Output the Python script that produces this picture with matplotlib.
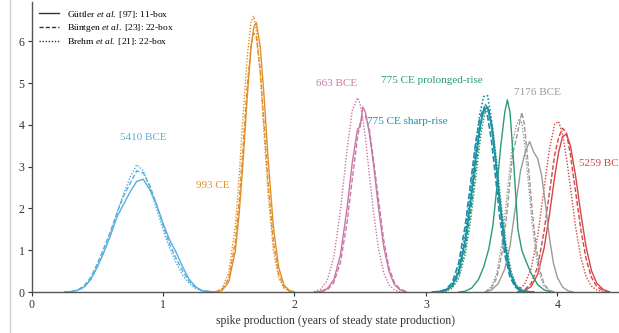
import matplotlib
matplotlib.use("Agg")
import matplotlib.pyplot as plt
from matplotlib.lines import Line2D

plt.rcParams["font.family"] = ["Liberation Serif", "DejaVu Serif"]
plt.rcParams["mathtext.fontset"] = "custom"
plt.rcParams["mathtext.rm"] = "Liberation Serif"
plt.rcParams["mathtext.it"] = "Liberation Serif:italic"

# ---- posterior densities of spike production, one block per event ----
# 5410 BCE
x_5410 = [0.25, 0.30, 0.35, 0.40, 0.45, 0.50, 0.55, 0.60, 0.65, 0.70, 0.75, 0.80,
          0.85, 0.90, 0.95, 1.00, 1.05, 1.10, 1.15, 1.20, 1.25, 1.30, 1.40]
y_5410_guttler = [0, 0.01, 0.04, 0.12, 0.30, 0.60, 0.95, 1.35, 1.80, 2.10, 2.40, 2.65,
                  2.70, 2.45, 2.10, 1.65, 1.25, 0.95, 0.60, 0.30, 0.12, 0.03, 0]
y_5410_buntgen = [0, 0.01, 0.05, 0.15, 0.35, 0.68, 1.05, 1.45, 1.90, 2.30, 2.60, 2.90,
                  2.85, 2.55, 2.10, 1.60, 1.15, 0.80, 0.50, 0.25, 0.10, 0.03, 0]
y_5410_brehm = [0, 0.01, 0.04, 0.12, 0.30, 0.60, 0.95, 1.40, 1.90, 2.35, 2.75, 3.05,
                2.90, 2.50, 2.00, 1.50, 1.05, 0.70, 0.40, 0.20, 0.08, 0.02, 0]

# 993 CE
x_993 = [1.40, 1.45, 1.50, 1.55, 1.58, 1.61, 1.64, 1.67, 1.69, 1.71, 1.74, 1.77,
         1.80, 1.84, 1.88, 1.92, 1.96, 2.00]
y_993_guttler = [0, 0.04, 0.24, 0.98, 1.90, 3.17, 4.64, 5.86, 6.33, 6.45, 5.86, 4.64,
                 3.17, 1.55, 0.59, 0.17, 0.04, 0]
y_993_buntgen = [0, 0.06, 0.32, 1.20, 2.20, 3.50, 4.90, 5.90, 6.20, 6.10, 5.30, 3.97,
                 2.60, 1.20, 0.43, 0.12, 0.03, 0]
y_993_brehm = [0.01, 0.09, 0.46, 1.58, 2.80, 4.25, 5.60, 6.48, 6.60, 6.28, 5.20, 3.74,
               2.34, 1.00, 0.34, 0.09, 0.02, 0]

# 663 BCE
x_663 = [2.15, 2.20, 2.25, 2.30, 2.35, 2.40, 2.44, 2.48, 2.50, 2.52, 2.54, 2.57,
         2.60, 2.64, 2.68, 2.72, 2.76, 2.80, 2.85]
y_663_guttler = [0, 0.02, 0.08, 0.30, 0.89, 2.00, 3.10, 3.90, 3.95, 4.43, 4.30, 3.80,
                 3.10, 2.00, 1.07, 0.49, 0.18, 0.06, 0]
y_663_buntgen = [0, 0.01, 0.05, 0.23, 0.71, 1.66, 2.70, 3.70, 4.05, 4.20, 4.22, 3.90,
                 3.20, 2.20, 1.22, 0.57, 0.23, 0.08, 0.01]
y_663_brehm = [0.01, 0.07, 0.28, 0.85, 1.95, 3.40, 4.35, 4.65, 4.50, 4.15, 3.70, 2.80,
               1.95, 1.02, 0.45, 0.17, 0.05, 0.01, 0]

# 775 CE, sharp-rise model
x_775s = [3.05, 3.10, 3.15, 3.20, 3.25, 3.30, 3.34, 3.38, 3.41, 3.44, 3.47, 3.50,
          3.53, 3.56, 3.60, 3.64, 3.68, 3.72, 3.76, 3.82]
y_775s_guttler = [0, 0.01, 0.04, 0.15, 0.49, 1.24, 2.17, 3.23, 3.93, 4.36, 4.42, 3.98,
                  3.17, 2.22, 1.15, 0.47, 0.16, 0.04, 0.01, 0]
y_775s_buntgen = [0, 0.01, 0.06, 0.22, 0.70, 1.60, 2.60, 3.60, 4.15, 4.40, 4.20, 3.60,
                  2.75, 1.85, 0.90, 0.36, 0.12, 0.03, 0.01, 0]
y_775s_brehm = [0, 0.01, 0.05, 0.17, 0.55, 1.38, 2.40, 3.50, 4.25, 4.68, 4.70, 4.10,
                3.20, 2.20, 1.10, 0.45, 0.15, 0.04, 0.01, 0]

# 775 CE, prolonged-rise model
x_775p = [3.25, 3.30, 3.35, 3.40, 3.44, 3.48, 3.51, 3.54, 3.57, 3.60, 3.62, 3.64,
          3.67, 3.70, 3.73, 3.76, 3.80, 3.85, 3.90, 3.95]
y_775p_guttler = [0, 0.02, 0.10, 0.30, 0.60, 1.05, 1.60, 2.50, 3.50, 4.30, 4.60, 4.30,
                  3.00, 1.50, 1.00, 0.75, 0.45, 0.18, 0.05, 0]
x_775p_22 = [3.10, 3.15, 3.20, 3.25, 3.30, 3.34, 3.38, 3.42, 3.45, 3.48, 3.51, 3.54,
             3.57, 3.61, 3.65, 3.69, 3.74, 3.80]
y_775p_buntgen = [0, 0.03, 0.12, 0.40, 1.05, 1.90, 3.00, 4.05, 4.50, 4.35, 3.75, 2.90,
                  2.00, 1.00, 0.40, 0.13, 0.03, 0]
y_775p_brehm = [0, 0.02, 0.09, 0.32, 0.90, 1.70, 2.75, 3.80, 4.30, 4.35, 3.90, 3.10,
                2.20, 1.15, 0.48, 0.16, 0.04, 0]

# 7176 BCE
x_7176 = [3.45, 3.50, 3.55, 3.60, 3.64, 3.68, 3.72, 3.76, 3.79, 3.82, 3.85, 3.88,
          3.91, 3.94, 3.97, 4.00, 4.04, 4.08, 4.12]
y_7176_guttler = [0, 0.05, 0.20, 0.55, 1.10, 2.00, 2.90, 3.40, 3.60, 3.35, 3.20, 2.80,
                  2.10, 1.30, 0.70, 0.35, 0.12, 0.03, 0]
x_7176_22 = [3.45, 3.50, 3.54, 3.58, 3.62, 3.66, 3.69, 3.71, 3.73, 3.75, 3.78, 3.81,
             3.84, 3.87, 3.90, 3.94, 3.98]
y_7176_buntgen = [0, 0.10, 0.35, 0.95, 2.00, 3.30, 3.70, 4.00, 4.30, 4.00, 3.00, 1.90,
                  1.05, 0.50, 0.18, 0.04, 0]
y_7176_brehm = [0, 0.13, 0.45, 1.20, 2.40, 3.60, 4.00, 4.15, 4.05, 3.60, 2.60, 1.60,
                0.85, 0.38, 0.13, 0.03, 0]

# 5259 BCE
x_5259 = [3.70, 3.75, 3.80, 3.85, 3.90, 3.94, 3.98, 4.01, 4.04, 4.07, 4.10, 4.14,
          4.18, 4.22, 4.26, 4.30, 4.35, 4.40]
y_5259_guttler = [0.01, 0.03, 0.13, 0.42, 1.06, 1.85, 2.76, 3.35, 3.72, 3.78, 3.50, 2.76,
                  1.85, 1.06, 0.51, 0.21, 0.06, 0]
y_5259_buntgen = [0.01, 0.05, 0.20, 0.60, 1.47, 2.38, 3.28, 3.70, 3.92, 3.80, 3.28, 2.38,
                  1.47, 0.78, 0.35, 0.13, 0.03, 0]
y_5259_brehm = [0.05, 0.18, 0.55, 1.33, 2.50, 3.42, 4.02, 4.08, 3.78, 3.20, 2.50, 1.54,
                0.81, 0.36, 0.14, 0.05, 0.01, 0]

x_ticks = [0, 1, 2, 3, 4]
y_ticks = [0, 1, 2, 3, 4, 5, 6]
legend_labels = [
    "Güttler $\\mathit{et\\ al.}$ [97]: 11-box",
    "Büntgen $\\mathit{et\\ al.}$ [23]: 22-box",
    "Brehm $\\mathit{et\\ al.}$ [21]: 22-box",
]

C_BLUE = "#5aaedc"
C_ORANGE = "#e0902a"
C_PINK = "#c978a6"
C_TEAL = "#1b8fa8"
C_GREEN = "#2a9a78"
C_GREY = "#9a9a9a"
C_RED = "#d84545"

events = [
    (x_5410, y_5410_guttler, y_5410_buntgen, y_5410_brehm, C_BLUE),
    (x_993, y_993_guttler, y_993_buntgen, y_993_brehm, C_ORANGE),
    (x_663, y_663_guttler, y_663_buntgen, y_663_brehm, C_PINK),
    (x_5259, y_5259_guttler, y_5259_buntgen, y_5259_brehm, C_RED),
]

fig = plt.figure(figsize=(6.19, 3.33), dpi=100)
ax = fig.add_axes([0.051, 0.123, 0.981, 0.872])

lw = 1.0
for xs, ys_g, ys_b, ys_h, col in events:
    ax.plot(xs, ys_g, color=col, lw=lw, ls="-")
    ax.plot(xs, ys_b, color=col, lw=lw, ls=(0, (3.5, 1.5)))
    ax.plot(xs, ys_h, color=col, lw=lw, ls=(0, (1, 1.2)))

# 7176 BCE: 11-box and 22-box runs on different grids
ax.plot(x_7176, y_7176_guttler, color=C_GREY, lw=lw, ls="-")
ax.plot(x_7176_22, y_7176_buntgen, color=C_GREY, lw=lw, ls=(0, (3.5, 1.5)))
ax.plot(x_7176_22, y_7176_brehm, color=C_GREY, lw=lw, ls=(0, (1, 1.2)))

# 775 CE, both rise models
ax.plot(x_775p, y_775p_guttler, color=C_GREEN, lw=lw, ls="-")
ax.plot(x_775p_22, y_775p_buntgen, color=C_GREEN, lw=lw, ls=(0, (3.5, 1.5)))
ax.plot(x_775p_22, y_775p_brehm, color=C_GREEN, lw=lw, ls=(0, (1, 1.2)))
ax.plot(x_775s, y_775s_guttler, color=C_TEAL, lw=1.3, ls="-")
ax.plot(x_775s, y_775s_buntgen, color=C_TEAL, lw=1.2, ls=(0, (3.5, 1.5)))
ax.plot(x_775s, y_775s_brehm, color=C_TEAL, lw=1.2, ls=(0, (1, 1.2)))

# event labels
fs = 8
ax.text(0.848, 3.71, "5410 BCE", color=C_BLUE, fontsize=fs, ha="center", va="center")
ax.text(1.38, 2.56, "993 CE", color=C_ORANGE, fontsize=fs, ha="center", va="center")
ax.text(2.32, 5.0, "663 BCE", color=C_PINK, fontsize=fs, ha="center", va="center")
ax.text(3.045, 5.07, "775 CE prolonged-rise", color=C_GREEN, fontsize=fs,
        ha="center", va="center")
ax.text(2.86, 4.07, "775 CE sharp-rise", color=C_TEAL, fontsize=fs,
        ha="center", va="center")
ax.text(3.85, 4.78, "7176 BCE", color=C_GREY, fontsize=fs, ha="center", va="center")
ax.text(4.163, 3.08, "5259 BCE", color=C_RED, fontsize=fs, ha="left", va="center")

# legend for the three carbon-cycle models
handles = [
    Line2D([], [], color="#333333", lw=1.0, ls="-"),
    Line2D([], [], color="#333333", lw=1.0, ls=(0, (3, 1.5))),
    Line2D([], [], color="#333333", lw=1.0, ls=(0, (1, 1.2))),
]
ax.legend(handles, legend_labels, loc="upper left", frameon=False,
          fontsize=6.8, handlelength=2.2, handletextpad=0.8, labelspacing=0.25,
          borderaxespad=0.55, borderpad=0.2)

ax.set_xlim(0, 4.62)
ax.set_ylim(0, 6.95)
ax.set_xticks(x_ticks)
ax.set_yticks(y_ticks)
ax.tick_params(direction="out", length=3, width=0.8, labelsize=8.5,
               colors="#333333", pad=2)
for side in ("top", "right"):
    ax.spines[side].set_visible(False)
for side in ("left", "bottom"):
    ax.spines[side].set_color("#555555")
    ax.spines[side].set_linewidth(1.0)
ax.set_xlabel("spike production (years of steady state production)",
              fontsize=8.5, color="#333333", labelpad=3)

# thin page rule along the left edge
fig.add_artist(Line2D([10 / 619, 10 / 619], [0, 1], transform=fig.transFigure,
                      color="#d0d0d0", lw=1.0))

fig.savefig("out.png", dpi=100)
